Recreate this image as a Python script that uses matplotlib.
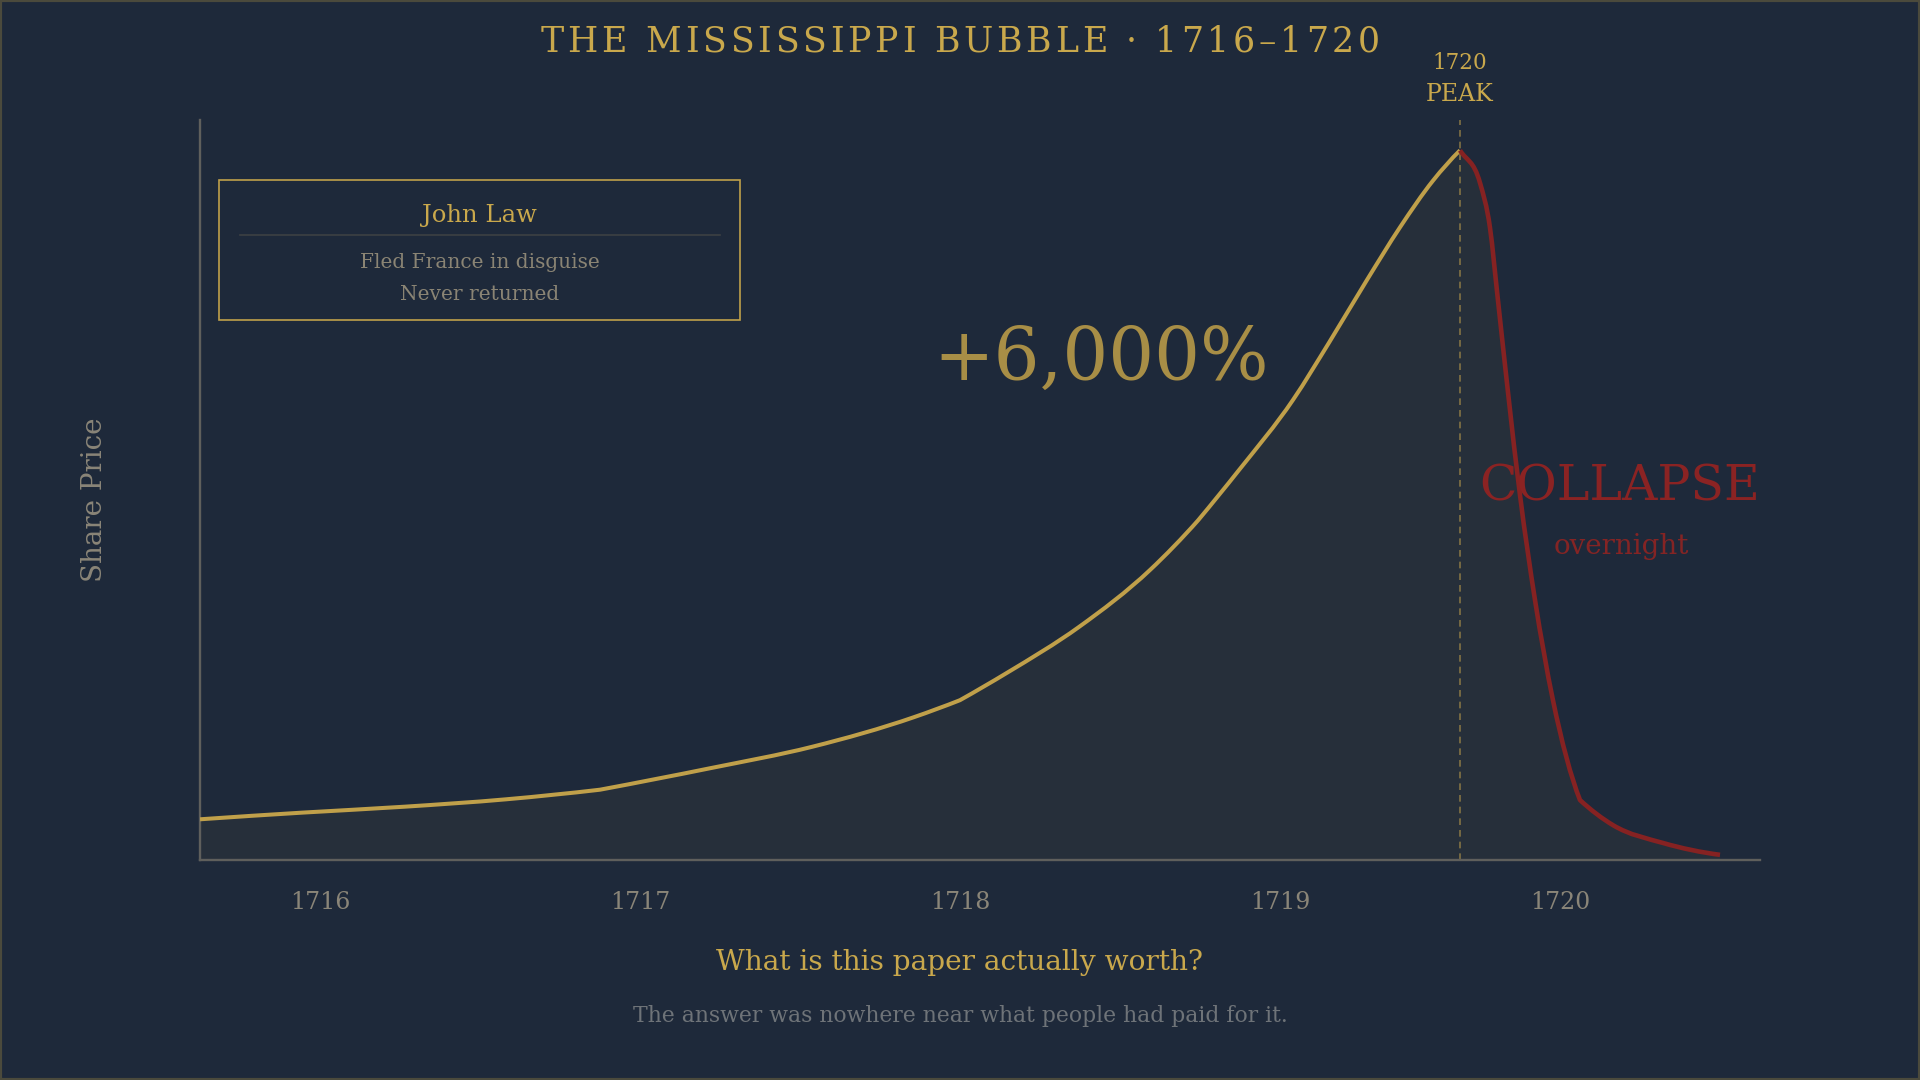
import matplotlib
matplotlib.use("Agg")
import matplotlib.pyplot as plt
from matplotlib.patches import Rectangle, PathPatch
from matplotlib.path import Path
from matplotlib.lines import Line2D
from matplotlib.font_manager import FontProperties, findfont, get_font

# ---------------- data ----------------
rise_years = [1715.625, 1715.944, 1716.263, 1716.581, 1716.875, 1717.219, 1717.538,
              1717.856, 1718.0, 1718.147, 1718.372, 1718.594, 1718.744, 1718.872,
              1719.041, 1719.153, 1719.272, 1719.375, 1719.478, 1719.5625]
rise_price = [5.5, 6.4, 7.2, 8.2, 9.5, 12.4, 15.3, 19.3, 21.6, 25.3, 31.5, 39.2,
              45.9, 52.7, 62.2, 69.9, 78.4, 85.5, 91.8, 95.9]
crash_years = [1719.5625, 1719.625, 1719.656, 1719.681, 1719.7125, 1719.75,
               1719.797, 1719.853, 1719.9375, 1720.041, 1720.197, 1720.375]
crash_price = [95.9, 91.5, 85.5, 75.7, 63.2, 49.3, 35.1, 21.6, 8.1, 4.7, 2.3, 0.7]
# indices where the drawn curve has a visible corner
rise_corners = [4, 8, 12]
crash_corners = [8]
tick_years = [1716, 1717, 1718, 1719, 1719.875]
tick_labels = ["1716", "1717", "1718", "1719", "1720"]
peak_year = 1719.5625

title = "THE MISSISSIPPI BUBBLE \u00b7 1716\u20131720"
box_title = "John Law"
box_lines = ["Fled France in disguise", "Never returned"]
gain_text = "+6,000%"
collapse_text = "COLLAPSE"
collapse_sub = "overnight"
peak_lines = ["1720", "PEAK"]
question = "What is this paper actually worth?"
answer = "The answer was nowhere near what people had paid for it."

# ---------------- styles ----------------
BG = "#1e293a"
GOLD = "#c0a04a"
GOLD_TXT = "#c9a84c"
RED = "#862222"
GRAY = "#8a8578"
AXIS = "#5f5f5c"
FAM = "DejaVu Serif"

plt.rcParams["font.family"] = [FAM, "DejaVu Sans"]

W, H = 1920, 1080
fig = plt.figure(figsize=(19.2, 10.8), dpi=100, facecolor=BG)


def fx(x):
    return x / W


def fy(y):
    return 1 - y / H


def smooth_segments(xs, ys, corners):
    """Cubic Bezier segments (Hermite in x) through the given points."""
    n = len(xs)
    h = [xs[i + 1] - xs[i] for i in range(n - 1)]
    d = [(ys[i + 1] - ys[i]) / h[i] for i in range(n - 1)]
    m_in = [0.0] * n
    m_out = [0.0] * n
    cs = set(corners)

    def safe(m, ref):
        if m * ref <= 0 or abs(m) > 3 * abs(ref):
            return ref
        return m

    for i in range(n):
        if 0 < i < n - 1 and i not in cs:
            m = (d[i - 1] * h[i] + d[i] * h[i - 1]) / (h[i - 1] + h[i])
            m_in[i] = m_out[i] = m
            continue
        if i < n - 1:
            if i + 1 < n - 1 and (i + 1) not in cs:
                m = ((2 * h[i] + h[i + 1]) * d[i] - h[i] * d[i + 1]) / (h[i] + h[i + 1])
                m_out[i] = safe(m, d[i])
            else:
                m_out[i] = d[i]
        if i > 0:
            if i - 1 > 0 and (i - 1) not in cs:
                m = ((2 * h[i - 1] + h[i - 2]) * d[i - 1] - h[i - 1] * d[i - 2]) / (h[i - 1] + h[i - 2])
                m_in[i] = safe(m, d[i - 1])
            else:
                m_in[i] = d[i - 1]
    verts = [(xs[0], ys[0])]
    codes = [Path.MOVETO]
    for i in range(n - 1):
        verts += [(xs[i] + h[i] / 3, ys[i] + m_out[i] * h[i] / 3),
                  (xs[i + 1] - h[i] / 3, ys[i + 1] - m_in[i + 1] * h[i] / 3),
                  (xs[i + 1], ys[i + 1])]
        codes += [Path.CURVE4] * 3
    return verts, codes


ax = fig.add_axes([fx(200), fy(860), 1560 / W, 740 / H])
ax.set_facecolor(BG)
ax.set_xlim(1715.625, 1720.5)
ax.set_ylim(0, 100)

rv, rc = smooth_segments(rise_years, rise_price, rise_corners)
cv, cc = smooth_segments(crash_years, crash_price, crash_corners)

# area under the whole curve
fill_verts = rv + cv[1:] + [(crash_years[-1], 0), (rise_years[0], 0), rv[0]]
fill_codes = rc + cc[1:] + [Path.LINETO, Path.LINETO, Path.CLOSEPOLY]
ax.add_patch(PathPatch(Path(fill_verts, fill_codes), facecolor=GOLD, alpha=0.05,
                       lw=0, zorder=1))
ax.add_patch(PathPatch(Path(rv, rc), fill=False, edgecolor=GOLD, lw=2.9,
                       joinstyle="round", capstyle="butt", zorder=3))
ax.add_patch(PathPatch(Path(cv, cc), fill=False, edgecolor=RED, lw=3.3,
                       joinstyle="round", capstyle="butt", zorder=3))
ax.axvline(peak_year, color=GOLD, alpha=0.6, lw=1.2, dashes=(4, 3), zorder=2)

for s in ["top", "right"]:
    ax.spines[s].set_visible(False)
for s in ["left", "bottom"]:
    ax.spines[s].set_color(AXIS)
    ax.spines[s].set_linewidth(1.7)

ax.set_yticks([])
ax.set_xticks(tick_years, tick_labels)
ax.tick_params(axis="x", length=0, pad=22, labelsize=17, labelcolor=GRAY)

ax.set_ylabel("Share Price", fontsize=20, color=GRAY, va="center")
ax.yaxis.set_label_coords((95 - 200) / 1560, (860 - 500) / 740)

# annotations inside the chart
fig.text(fx(1101), fy(380), gain_text, fontsize=52, color="#a88e46",
         ha="center", va="baseline")
fig.text(fx(1620), fy(500), collapse_text, fontsize=35.3, color="#8b2323",
         ha="center", va="baseline", zorder=5)
fig.text(fx(1621), fy(554), collapse_sub, fontsize=20, color="#842424",
         ha="center", va="baseline")
fig.text(fx(1460), fy(69), peak_lines[0], fontsize=15.5, color=GOLD_TXT,
         ha="center", va="baseline")
fig.text(fx(1460), fy(101), peak_lines[1], fontsize=17, color=GOLD_TXT,
         ha="center", va="baseline")

# John Law box
fig.add_artist(Rectangle((fx(219), fy(320)), 521 / W, 140 / H,
                         transform=fig.transFigure, fill=False,
                         ec=GOLD, lw=1.2))
fig.add_artist(Line2D([fx(240), fx(720)], [fy(235), fy(235)],
                      transform=fig.transFigure, color="#3d4043", lw=1.2))
fig.text(fx(479.5), fy(222), box_title, fontsize=17.5, color=GOLD_TXT,
         ha="center", va="baseline")
fig.text(fx(479.5), fy(268), box_lines[0], fontsize=14.5, color="#8a8474",
         ha="center", va="baseline")
fig.text(fx(479.5), fy(300), box_lines[1], fontsize=14.5, color="#8a8474",
         ha="center", va="baseline")

# bottom texts
fig.text(fx(960), fy(970), question, fontsize=20.2, color=GOLD_TXT,
         ha="center", va="baseline")
fig.text(fx(960), fy(1022), answer, fontsize=15.75, color="#6e7378",
         ha="center", va="baseline")

# letter-spaced title
TSIZE = 25
fp = FontProperties(family=FAM, size=TSIZE)
font = get_font(findfont(fp))
font.set_size(TSIZE, 100)
adv = []
for ch in title:
    g = font.load_char(ord(ch))
    adv.append(g.linearHoriAdvance / 65536)
target = 839
spacing = (target - sum(adv)) / (len(title) - 1)
x = 960 - target / 2
for ch, a in zip(title, adv):
    fig.text(fx(x), fy(52), ch, fontsize=TSIZE, color=GOLD_TXT,
             ha="left", va="baseline")
    x += a + spacing

# frame border
fig.add_artist(Rectangle((0, 0), 1, 1, transform=fig.transFigure, fill=False,
                         ec="#4b4a3c", lw=3))

fig.savefig("out.png", dpi=100, facecolor=BG)
